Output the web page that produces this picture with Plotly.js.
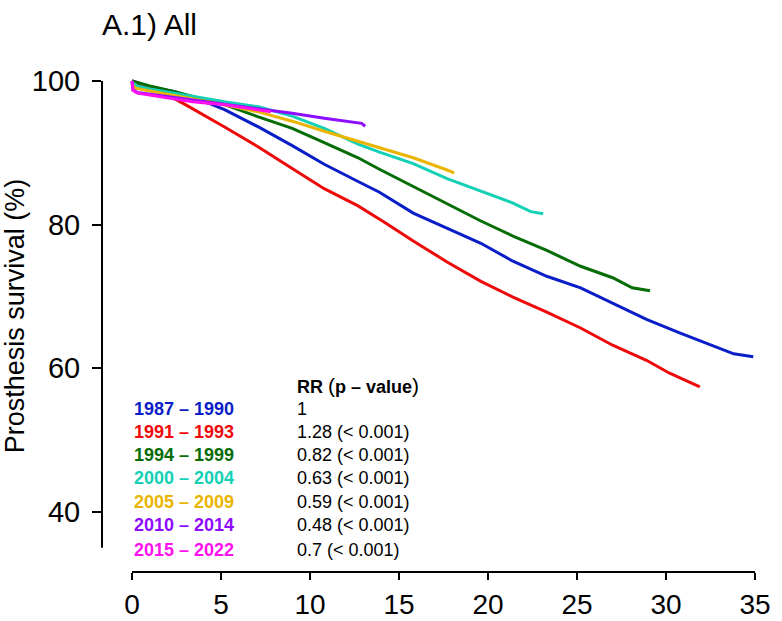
<!DOCTYPE html>
<html>
<head>
<meta charset="utf-8">
<script src="https://cdn.plot.ly/plotly-3.0.1.min.js"></script>
<style>html,body{margin:0;padding:0;background:#fff;}#chart{width:782px;height:621px;}</style>
</head>
<body>
<div id="chart"></div>
<script>
// ---- data ----
const periods = ["1987 – 1990","1991 – 1993","1994 – 1999","2000 – 2004","2005 – 2009","2010 – 2014","2015 – 2022"];
const colors  = ["#0a1ec8","#ee0a0a","#066c06","#14d0b4","#e9b500","#8e0cff","#ff10ee"];
const rrLabels = ["1","1.28 (< 0.001)","0.82 (< 0.001)","0.63 (< 0.001)","0.59 (< 0.001)","0.48 (< 0.001)","0.7 (< 0.001)"];

const t1987 = [0,0.5,1,2.4,4.3,5.2,7.1,9.0,10.8,12.7,13.9,15.8,17.7,19.6,21.4,23.3,25.2,27.0,28.9,30.8,32.6,33.8,34.9];
const s1987 = [100,99.6,99.2,98.5,96.9,96.0,93.6,91.0,88.4,86.0,84.5,81.6,79.5,77.4,74.9,72.8,71.2,69.1,66.8,64.9,63.2,62.0,61.6];

const t1991 = [0,0.5,1.5,3.0,5.2,7.1,9.0,10.8,12.7,14.2,15.8,17.7,19.6,21.4,23.3,25.2,27.0,28.9,30.2,31.9];
const s1991 = [100,99.5,98.7,96.7,93.6,90.8,87.8,85.0,82.6,80.3,77.7,74.8,72.1,69.9,67.8,65.6,63.2,61.1,59.3,57.4];

const t1994 = [0,1,2.4,5.2,7.1,9.0,10.8,12.7,13.9,15.8,17.7,19.6,21.4,23.3,25.2,27.0,28.1,29.1];
const s1994 = [100,99.3,98.5,96.7,95.0,93.4,91.4,89.3,87.7,85.3,83.0,80.5,78.4,76.4,74.2,72.6,71.2,70.8];

const t2000 = [0,0.3,1,2.4,5.2,7.1,9.0,10.8,12.7,13.9,15.8,17.7,19.6,21.4,22.4,23.1];
const s2000 = [99.8,99.3,98.9,98.3,97.1,96.4,95.1,93.4,91.2,90.1,88.5,86.4,84.7,83.0,81.8,81.5];

const t2005 = [0,0.2,1,2.4,5.2,7.1,9.0,10.8,12.7,13.9,15.8,17.7,18.1];
const s2005 = [99.5,99.0,98.6,98.0,96.7,95.7,94.4,93.0,91.6,90.8,89.3,87.6,87.2];

const t2010 = [0,0.05,0.3,3.4,7.1,9.0,10.8,12.7,12.9,13.1];
const s2010 = [100,98.8,98.4,97.4,96.2,95.5,94.8,94.2,94.1,93.7];

const t2015 = [0,0.05,0.3,1.5,3.4,5.2,7.1,7.8];
const s2015 = [100,98.7,98.3,97.8,97.1,96.7,96.0,95.7];

const xTicks = [0,5,10,15,20,25,30,35];
const yTicks = [40,60,80,100];

// ---- build ----
const series = [[t1987,s1987],[t1991,s1991],[t1994,s1994],[t2000,s2000],[t2005,s2005],[t2010,s2010],[t2015,s2015]];
const traces = series.map((d,i)=>({
  x:d[0], y:d[1], type:"scatter", mode:"lines", name:periods[i],
  line:{color:colors[i], width:3}, hoverinfo:"skip"
}));

const FONT = "Liberation Sans, Arial, Helvetica, sans-serif";
const rowY = [54.32,51.11,47.91,44.71,41.36,38.16,34.68];
const annotations = [];
annotations.push({xref:"x", yref:"y", x:9.16, y:57.66, xanchor:"left", yanchor:"middle", showarrow:false,
  text:"<b>RR</b> <span style='font-size:21px'>(</span><b>p – value</b><span style='font-size:21px'>)</span>",
  font:{family:FONT, size:18, color:"#000"}});
periods.forEach((p,i)=>{
  annotations.push({xref:"x", yref:"y", x:0, y:rowY[i], xanchor:"left", yanchor:"middle", showarrow:false,
    text:"<b>"+p+"</b>", font:{family:FONT, size:18, color:colors[i]}});
  annotations.push({xref:"x", yref:"y", x:9.16, y:rowY[i], xanchor:"left", yanchor:"middle", showarrow:false,
    text:rrLabels[i], font:{family:FONT, size:18, color:"#000"}});
});

const layout = {
  width:782, height:621,
  margin:{l:102, r:12, t:60, b:49, autoexpand:false},
  paper_bgcolor:"#fff", plot_bgcolor:"#fff",
  showlegend:false,
  font:{family:FONT, color:"#000"},
  title:{text:"A.1) All", font:{family:FONT, size:30, color:"#000"},
         xref:"container", yref:"container", x:0.1304, xanchor:"left", y:0.96, yanchor:"middle"},
  xaxis:{range:[-1.685,35.84], tickvals:xTicks, ticktext:xTicks.map(String),
         showgrid:false, zeroline:false, showline:false,
         ticks:"outside", ticklen:7, tickwidth:2, tickcolor:"#000",
         tickfont:{family:FONT, size:28, color:"#000"}, ticklabelstandoff:0},
  yaxis:{range:[31.62,102.92], tickvals:yTicks, ticktext:yTicks.map(String),
         showgrid:false, zeroline:false, showline:false,
         ticks:"outside", ticklen:9, tickwidth:2, tickcolor:"#000",
         tickfont:{family:FONT, size:29, color:"#000"}, ticklabelstandoff:6,
         title:{text:"Prosthesis survival (%)", font:{family:FONT, size:27, color:"#000"}, standoff:8}},
  shapes:[
    {type:"line", xref:"x", yref:"paper", x0:0, x1:35, y0:0, y1:0, line:{color:"#000", width:2}},
    {type:"line", xref:"paper", yref:"y", x0:0, x1:0, y0:35, y1:100, line:{color:"#000", width:2}}
  ],
  annotations:annotations
};

Plotly.newPlot("chart", traces, layout, {displayModeBar:false, staticPlot:true});
</script>
</body>
</html>
